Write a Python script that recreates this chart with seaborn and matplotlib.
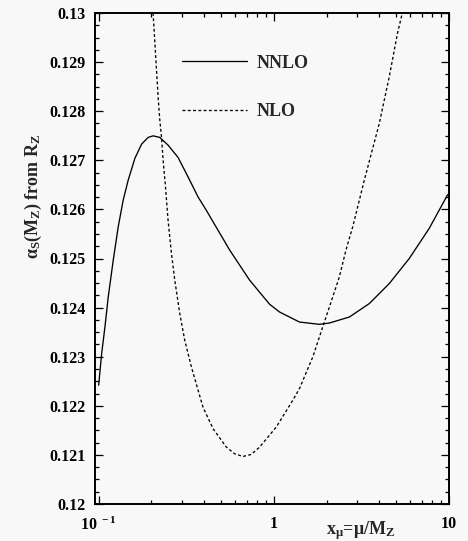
import numpy as np
import pandas as pd
import matplotlib
matplotlib.use("Agg")
import matplotlib.pyplot as plt
from matplotlib.ticker import FixedLocator, NullFormatter, LogLocator
from matplotlib.lines import Line2D
import seaborn as sns

# ---- data ----
nnlo_x = [0.100, 0.1040, 0.1086, 0.1134, 0.1211, 0.1293, 0.1380, 0.1474, 0.1609,
          0.1758, 0.1916, 0.2046, 0.2234, 0.2490, 0.2840, 0.3237, 0.3692, 0.412,
          0.560, 0.727, 0.945, 1.078, 1.401, 1.82, 2.076, 2.698, 3.508, 4.559,
          5.928, 7.703, 9.79, 10.0]
nnlo_y = [0.12242, 0.123062, 0.123605, 0.124216, 0.124964, 0.125643, 0.126187,
          0.126595, 0.127038, 0.127329, 0.127466, 0.127498, 0.127466, 0.127309,
          0.127058, 0.126663, 0.126255, 0.12598, 0.12517, 0.12456, 0.12407,
          0.12391, 0.123706, 0.123659, 0.123686, 0.123808, 0.124082, 0.124489,
          0.124999, 0.125611, 0.126289, 0.126324]

nlo_x = [0.2045, 0.219, 0.2234, 0.2284, 0.2333, 0.2407, 0.2490, 0.2604, 0.2720,
         0.2904, 0.3101, 0.3385, 0.394, 0.450, 0.536, 0.597, 0.666, 0.7436,
         0.829, 1.032, 1.282, 1.40, 1.668, 1.901, 2.076, 2.366, 2.584, 2.82,
         3.285, 4.0, 4.56, 5.08, 5.38]
nlo_y = [0.13000, 0.12823, 0.127818, 0.127478, 0.127003, 0.126459, 0.125780,
         0.125101, 0.124557, 0.123878, 0.123333, 0.122789, 0.121973, 0.121533,
         0.121158, 0.121023, 0.120968, 0.121009, 0.121158, 0.121566, 0.12211,
         0.122349, 0.122993, 0.123604, 0.124012, 0.124624, 0.12518, 0.125643,
         0.126595, 0.127751, 0.128701, 0.129586, 0.12996]

series_names = ["NNLO", "NLO"]
ytick_vals = [0.12, 0.121, 0.122, 0.123, 0.124, 0.125, 0.126, 0.127, 0.128, 0.129, 0.13]
ytick_labels = ["0.12", "0.121", "0.122", "0.123", "0.124", "0.125", "0.126",
                "0.127", "0.128", "0.129", "0.13"]
xtick_vals = [0.1, 1, 10]
xtick_labels = [r"10$^{\ -1}$", "1", "10"]

df = pd.concat([
    pd.DataFrame({"x": nnlo_x, "y": nnlo_y, "order": series_names[0]}),
    pd.DataFrame({"x": nlo_x, "y": nlo_y, "order": series_names[1]}),
], ignore_index=True)

# ---- style ----
sns.set_theme(style="ticks")
bg = "#f8f8f8"
plt.rcParams.update({
    "font.family": ["Liberation Serif", "DejaVu Serif"],
    "font.weight": "bold",
    "mathtext.fontset": "custom",
    "mathtext.rm": "Liberation Serif:bold",
    "mathtext.it": "Liberation Serif:bold",
    "mathtext.bf": "Liberation Serif:bold",
    "axes.labelweight": "bold",
})

fig = plt.figure(figsize=(4.68, 5.41), dpi=100, facecolor=bg)
ax = fig.add_axes([95 / 468, 1 - 504 / 541, (449 - 95) / 468, (504 - 13) / 541])
ax.set_facecolor(bg)

dash = (2.2, 1.8)
sns.lineplot(data=df, x="x", y="y", style="order", hue="order",
             palette={"NNLO": "black", "NLO": "black"},
             dashes={"NNLO": "", "NLO": dash},
             linewidth=0.95, sort=False, ax=ax, legend=False, estimator=None)

ax.set_xscale("log")
ax.set_xlim(0.0953, 10)
ax.set_ylim(0.12, 0.13)

ax.set_yticks(ytick_vals)
ax.set_yticklabels(ytick_labels)
ax.yaxis.set_minor_locator(FixedLocator(np.arange(0.12, 0.13001, 0.00025)))
ax.set_xticks(xtick_vals)
ax.set_xticklabels(xtick_labels)
ax.xaxis.set_minor_locator(LogLocator(base=10, subs=np.arange(2, 10)))
ax.xaxis.set_minor_formatter(NullFormatter())

ax.tick_params(which="both", direction="in", top=True, right=True,
               color="black", labelsize=11.5, labelcolor="black")
ax.tick_params(which="major", length=5.8, width=0.9)
ax.tick_params(which="minor", length=2.9, width=0.9)
ax.tick_params(axis="y", which="major", pad=7)
ax.tick_params(axis="x", which="major", pad=9)
for lab in ax.get_xticklabels() + ax.get_yticklabels():
    lab.set_fontweight("bold")

for s in ax.spines.values():
    s.set_linewidth(1.4)
    s.set_color("black")

ax.set_ylabel(r"$\alpha_S(M_Z)$ from R$_Z$", fontsize=13, fontweight="bold")
ax.yaxis.set_label_coords(-0.145, 0.626)
ax.set_xlabel(r"x$_{\mu}$=$\mu$/M$_Z$", fontsize=13, fontweight="bold")
ax.xaxis.set_label_coords(0.75, -0.03)

# legend
handles = [Line2D([], [], color="black", lw=0.95, ls="-"),
           Line2D([], [], color="black", lw=0.95, ls=(0, dash))]
leg = ax.legend(handles, series_names, loc="upper left",
                bbox_to_anchor=(0.246, 0.915), frameon=False,
                prop={"family": "Liberation Serif", "weight": "bold", "size": 13},
                handlelength=3.6, handletextpad=0.55, labelspacing=1.75,
                borderpad=0, borderaxespad=0)

fig.savefig("out.png", dpi=100, facecolor=bg)
